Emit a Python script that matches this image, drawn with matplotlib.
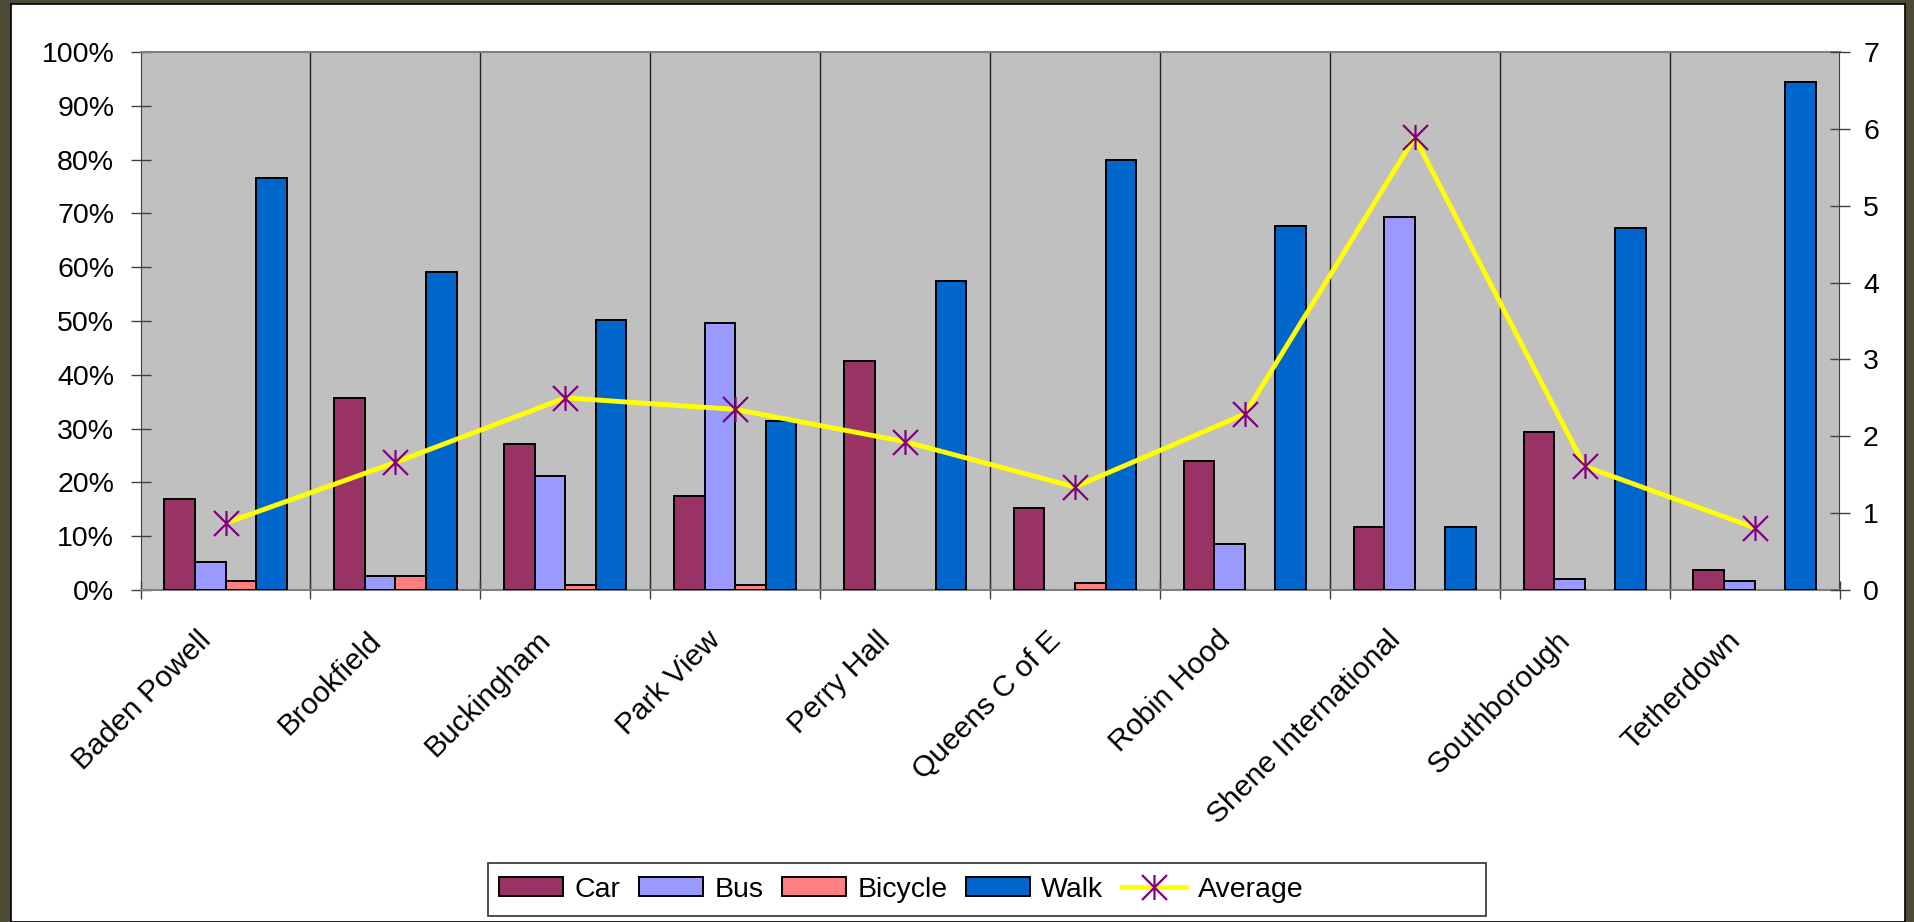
import matplotlib
matplotlib.use("Agg")
import matplotlib.pyplot as plt
from matplotlib.patches import Rectangle, Patch
from matplotlib.lines import Line2D
from matplotlib.path import Path
from matplotlib.transforms import ScaledTranslation
import numpy as np

plt.rcParams['font.family'] = ['Liberation Sans', 'DejaVu Sans']

schools = ["Baden Powell", "Brookfield", "Buckingham", "Park View", "Perry Hall",
           "Queens C of E", "Robin Hood", "Shene International", "Southborough", "Tetherdown"]
car = [16.9, 35.7, 27.2, 17.5, 42.6, 15.3, 23.9, 11.8, 29.3, 3.8]
bus = [5.2, 2.6, 21.2, 49.7, 0, 0, 8.5, 69.3, 2.1, 1.7]
bicycle = [1.7, 2.6, 1.0, 1.0, 0, 1.3, 0, 0, 0, 0]
walk = [76.6, 59.1, 50.2, 31.4, 57.4, 80.0, 67.6, 11.8, 67.2, 94.4]
average = [0.87, 1.66, 2.50, 2.35, 1.93, 1.34, 2.29, 5.89, 1.61, 0.81]
series_names = ["Car", "Bus", "Bicycle", "Walk"]
series_colors = ["#993366", "#9999FF", "#FF8080", "#0066CC"]
pct_ticks = list(range(0, 101, 10))
avg_ticks = list(range(0, 8))

W, H = 1915, 922
fig = plt.figure(figsize=(W / 100, H / 100), dpi=100)
fig.patch.set_facecolor("#4D4A38")
fig.patches.append(Rectangle((11 / W, 0), (1905 - 11) / W, (H - 4) / H,
                             transform=fig.transFigure, facecolor="white",
                             edgecolor="black", lw=1.2, zorder=-2))

left, right, top, bottom = 140.6, 1839.5, 52, 590
ax = fig.add_axes([left / W, 1 - bottom / H, (right - left) / W, (bottom - top) / H])
ax.set_facecolor("#C0C0C0")

x = np.arange(len(schools))
bw = 0.18
offsets = [-1.5 * bw, -0.5 * bw, 0.5 * bw, 1.5 * bw]
for vals, off, col in zip([car, bus, bicycle, walk], offsets, series_colors):
    edges = ["black" if v > 0 else "none" for v in vals]
    ax.bar(x + off, vals, width=bw, color=col, edgecolor=edges, linewidth=1.4, zorder=3)

for b in np.arange(0.5, len(schools) - 0.5, 1.0):
    ax.axvline(b, color="#202020", lw=1.0, zorder=1)

ax.set_xlim(-0.5, len(schools) - 0.5)
ax.set_ylim(0, 100)
ax.set_yticks(pct_ticks)
ax.set_yticklabels([f"{t}%" for t in pct_ticks])
ax.tick_params(axis="y", direction="inout", length=14, width=1, color="#404040",
               labelsize=20.5, pad=12)

ax.set_xticks(np.arange(-0.5, len(schools), 1.0), minor=True)
ax.set_xticks(x)
ax.set_xticklabels(schools, rotation=45, ha="right", va="top", fontsize=21.5)
ax.tick_params(axis="x", which="major", length=0, pad=26)
ax.tick_params(axis="x", which="minor", direction="inout", length=13, width=1, color="#404040")
off = ScaledTranslation(-9 / 100, 0, fig.dpi_scale_trans)
for lab in ax.get_xticklabels():
    lab.set_transform(lab.get_transform() + off)

for s in ["top", "bottom"]:
    ax.spines[s].set_color("#808080")
    ax.spines[s].set_linewidth(1.5)
ax.spines["left"].set_color("#404040")
ax.spines["right"].set_color("#404040")

ax2 = ax.twinx()
ax2.set_ylim(0, 7)
ax2.set_yticks(avg_ticks)
ax2.tick_params(axis="y", direction="inout", length=14, width=1, color="#404040",
                labelsize=20.5, pad=10)
for s in ax2.spines.values():
    s.set_visible(False)

star = Path([(0, -1), (0, 1), (-1, -1), (1, 1), (-1, 1), (1, -1)],
            [Path.MOVETO, Path.LINETO] * 3)
ax2.plot(x, average, color="#FFFF00", lw=3.5, marker=star, markersize=18,
         markeredgecolor="#800080", markeredgewidth=1.6, zorder=5)

# legend
lx0, lx1, ly0, ly1 = 488, 1486, 863, 916
fig.patches.append(Rectangle((lx0 / W, 1 - ly1 / H), (lx1 - lx0) / W, (ly1 - ly0) / H,
                             transform=fig.transFigure, facecolor="white",
                             edgecolor="#303030", lw=1.2, zorder=-1))
handles = [Patch(facecolor=c, edgecolor="black", linewidth=1.4) for c in series_colors]
handles.append(Line2D([], [], color="#FFFF00", lw=3.5, marker=star, markersize=18,
                      markeredgecolor="#800080", markeredgewidth=1.6))
fig.legend(handles, series_names + ["Average"], loc="center left",
           bbox_to_anchor=(499 / W, 1 - (ly0 + ly1) / 2 / H), ncol=5, frameon=False,
           fontsize=20.5, handlelength=2.25, handleheight=0.6, handletextpad=0.4,
           columnspacing=0.65, borderpad=0, borderaxespad=0)

fig.savefig("out.png", dpi=100, facecolor=fig.get_facecolor())
